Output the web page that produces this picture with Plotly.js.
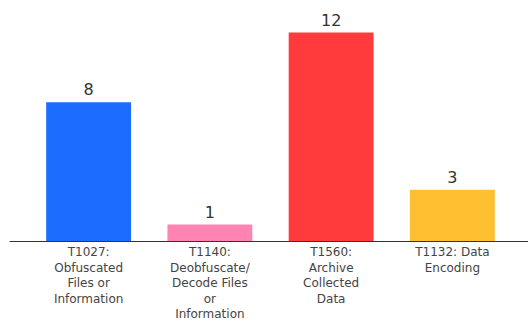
<!DOCTYPE html>
<html>
<head>
<meta charset="utf-8">
<script src="https://cdn.plot.ly/plotly-3.0.1.min.js"></script>
<style>
  html, body { margin: 0; padding: 0; background: #fff; }
  #chart { width: 528px; height: 321px; }
</style>
</head>
<body>
<div id="chart"></div>
<script>
// Technique counts by MITRE ATT&CK ID
const categories = ["T1027", "T1140", "T1560", "T1132"];
const tickLabels = [
  "T1027:<br>Obfuscated<br>Files or<br>Information",
  "T1140:<br>Deobfuscate/<br>Decode Files<br>or<br>Information",
  "T1560:<br>Archive<br>Collected<br>Data",
  "T1132: Data<br>Encoding"
];
const counts = [8, 1, 12, 3];
const barColors = ["#1b6cff", "#ff84b3", "#ff3b3b", "#ffbf31"];

const trace = {
  type: "bar",
  x: categories,
  y: counts,
  marker: { color: barColors, line: { width: 0 } },
  text: counts.map(String),
  textposition: "outside",
  cliponaxis: false,
  textfont: { family: "DejaVu Sans, sans-serif", size: 16, color: "#333" },
  hoverinfo: "none"
};

const layout = {
  width: 528,
  height: 321,
  margin: { l: 28, r: 15, t: 6, b: 79 },
  paper_bgcolor: "#fff",
  plot_bgcolor: "#fff",
  bargap: 0.3,
  showlegend: false,
  xaxis: {
    type: "category",
    tickvals: categories,
    ticktext: tickLabels,
    showline: false,
    showgrid: false,
    zeroline: false,
    ticks: "",
    ticklabelstandoff: 1,
    tickfont: { family: "DejaVu Sans, sans-serif", size: 12, color: "#444" },
    fixedrange: true
  },
  yaxis: {
    range: [0, 13.52],
    visible: false,
    fixedrange: true
  },
  shapes: [{
    type: "line",
    xref: "paper", yref: "y",
    x0: -0.038, x1: 1.04, y0: 0, y1: 0,
    line: { color: "#333", width: 2 }
  }]
};

Plotly.newPlot("chart", [trace], layout, { displayModeBar: false, staticPlot: true });
</script>
</body>
</html>
